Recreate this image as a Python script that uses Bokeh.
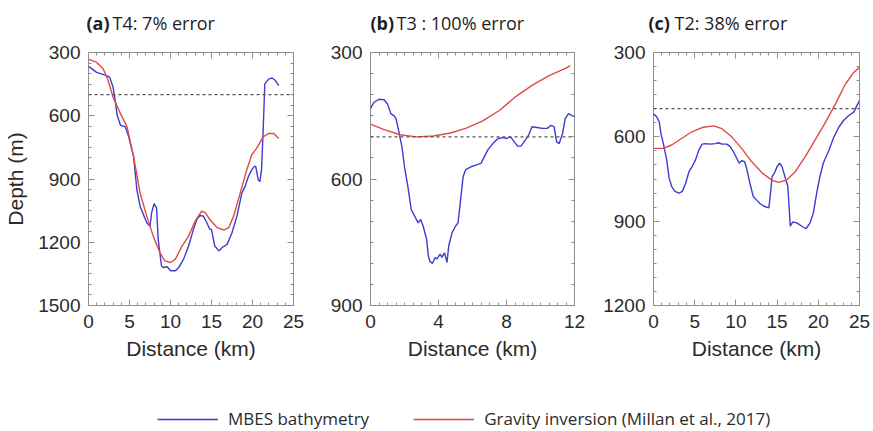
from bokeh.plotting import figure
from bokeh.models import (Range1d, SingleIntervalTicker, LinearAxis, Span, Label,
                          Legend, LegendItem, ColumnDataSource)
from bokeh.layouts import row, column
from bokeh.embed import file_html
from bokeh.resources import INLINE

# ---------------- data: along-track distance (km) and depth (m) ----------------
# (a) T4
a_mbes_km = [0.0, 1.0, 2.2, 2.6, 3.0, 3.25, 3.5, 3.9, 4.5, 4.9, 5.5, 5.9, 6.3, 7.1, 7.5,
             7.7, 8.0, 8.3, 8.5, 8.9, 9.1, 9.6, 10.0, 10.6, 11.0, 11.6, 12.2, 12.8, 13.2,
             13.6, 14.0, 14.4, 14.8, 15.0, 15.4, 15.9, 16.3, 16.9, 17.5, 18.1, 18.7, 19.1,
             19.5, 19.9, 20.2, 20.4, 20.7, 20.9, 21.1, 21.3, 21.5, 22.0, 22.4, 22.8, 23.2]
a_mbes_depth = [366, 394, 410, 418, 465, 527, 598, 645, 653, 700, 794, 951, 1030, 1108, 1124,
                1060, 1017, 1037, 1186, 1312, 1320, 1316, 1335, 1335, 1320, 1280, 1218, 1139,
                1092, 1073, 1076, 1105, 1139, 1139, 1218, 1241, 1225, 1210, 1155, 1076, 967,
                935, 888, 857, 841, 841, 904, 912, 857, 669, 449, 425, 421, 433, 457]
a_grav_km = [0.0, 1.0, 1.8, 2.4, 3.0, 3.9, 4.7, 5.5, 6.3, 7.1, 7.9, 8.7, 9.3, 10.0, 10.6,
             11.4, 12.2, 13.0, 13.8, 14.2, 14.8, 15.7, 16.5, 17.1, 17.7, 18.5, 19.3, 19.9,
             20.5, 21.3, 22.0, 22.6, 23.2]
a_grav_depth = [331, 347, 378, 433, 512, 590, 653, 794, 967, 1076, 1171, 1249, 1288, 1296,
                1280, 1218, 1171, 1100, 1053, 1058, 1092, 1131, 1142, 1131, 1076, 967, 857,
                786, 755, 700, 684, 684, 708]

# (b) T3
b_mbes_km = [0.0, 0.2, 0.5, 0.8, 1.0, 1.2, 1.4, 1.5, 1.65, 1.85, 2.0, 2.2, 2.4, 2.6, 2.8,
             2.95, 3.1, 3.3, 3.4, 3.5, 3.65, 3.8, 3.9, 4.1, 4.2, 4.35, 4.5, 4.6, 4.8, 5.0,
             5.15, 5.3, 5.45, 5.6, 5.9, 6.2, 6.5, 6.7, 6.9, 7.2, 7.5, 7.8, 8.0, 8.2, 8.35,
             8.65, 8.85, 9.1, 9.3, 9.5, 9.8, 10.1, 10.4, 10.6, 10.8, 10.95, 11.1, 11.3,
             11.45, 11.65, 11.9, 12.0]
b_mbes_depth = [433, 418, 411, 412, 422, 445, 451, 457, 484, 524, 571, 618, 673, 688, 704,
                696, 712, 743, 782, 796, 800, 786, 790, 778, 786, 775, 798, 759, 727, 712,
                704, 649, 594, 578, 571, 567, 563, 547, 531, 516, 504, 502, 504, 500, 506,
                522, 522, 508, 496, 476, 478, 480, 480, 473, 476, 512, 516, 492, 457, 445,
                451, 451]
b_grav_km = [0.0, 0.8, 1.75, 2.7, 3.7, 4.7, 5.6, 6.6, 7.6, 8.5, 9.5, 10.5, 11.5, 11.75]
b_grav_depth = [470, 483, 495, 500, 498, 491, 480, 462, 437, 406, 378, 355, 337, 331]

# (c) T2
c_mbes_km = [0.0, 0.4, 0.7, 0.9, 1.2, 1.6, 1.9, 2.2, 2.6, 3.1, 3.5, 3.9, 4.3, 4.65, 5.1,
             5.5, 5.9, 6.3, 6.9, 7.5, 7.9, 8.3, 8.9, 9.3, 9.7, 10.1, 10.4, 10.7, 11.05,
             11.3, 11.7, 12.1, 12.55, 12.95, 13.4, 14.0, 14.2, 14.4, 14.7, 15.0, 15.3,
             15.6, 16.0, 16.3, 16.6, 16.9, 17.4, 18.0, 18.5, 19.0, 19.4, 19.8, 20.2, 20.6,
             21.3, 21.9, 22.5, 23.1, 23.7, 24.3, 24.7, 25.0]
c_mbes_depth = [518, 529, 547, 588, 624, 682, 747, 776, 794, 800, 794, 765, 724, 708, 682,
                647, 626, 624, 626, 624, 621, 626, 626, 635, 653, 676, 694, 685, 688, 712,
                765, 812, 826, 838, 847, 853, 800, 741, 727, 706, 694, 706, 747, 776, 918,
                903, 906, 918, 927, 906, 871, 800, 741, 694, 647, 600, 565, 541, 524, 512,
                488, 471]
c_grav_km = [0.0, 1.2, 2.2, 3.4, 4.65, 5.9, 7.3, 8.3, 9.5, 10.7, 11.9, 13.2, 14.4, 15.2,
             16.2, 17.2, 18.4, 19.6, 20.9, 22.1, 23.3, 24.3, 25.0]
c_grav_depth = [641, 641, 629, 606, 582, 567, 561, 571, 600, 641, 688, 729, 755, 762, 753,
                724, 671, 612, 547, 482, 412, 371, 353]

REF_DEPTH = 500  # dotted reference depth

panel_tags = ["(a)", "(b)", "(c)"]
panel_titles = ["T4: 7% error", "T3 : 100% error", "T2: 38% error"]

BLUE = "#3d3dcf"
RED = "#e04a44"
FRAME = "#8f8f8f"
TEXT = "#2b2b2b"
AX_FONT = "Liberation Sans"
TITLE_FONT = "Open Sans"

HEADER_H = 40
PANEL_H = 340
LEGEND_H = 51
W = 873


def style_axis(ax, labels=True):
    ax.axis_line_color = None
    ax.major_tick_line_color = FRAME
    ax.minor_tick_line_color = FRAME
    ax.major_tick_in = 6
    ax.major_tick_out = 0
    ax.minor_tick_in = 3
    ax.minor_tick_out = 0
    ax.major_label_text_font = AX_FONT
    ax.major_label_text_color = TEXT
    ax.axis_label_text_font = AX_FONT
    ax.axis_label_text_font_style = "normal"
    ax.axis_label_text_color = TEXT
    ax.axis_label_text_font_size = "21px"
    if labels:
        ax.major_label_text_font_size = "19px"
    else:
        # tick marks only on the opposite side of the frame
        ax.major_label_text_font_size = "1px"
        ax.major_label_text_color = None
        ax.major_label_standoff = 0


def panel(width, left, right, top, bottom, xmax, xint, xminor, ymax,
          mk, md, gk, gd, ylabel=None):
    p = figure(width=width, height=PANEL_H, output_backend="svg", toolbar_location=None,
               x_range=Range1d(0, xmax), y_range=Range1d(ymax, 300),
               x_axis_type=None, y_axis_type=None,
               min_border_left=left, min_border_right=right,
               min_border_top=top, min_border_bottom=bottom)
    p.outline_line_color = FRAME
    p.outline_line_width = 1
    p.background_fill_color = "white"
    p.border_fill_color = "white"

    xt = SingleIntervalTicker(interval=xint, num_minor_ticks=xminor)
    yt = SingleIntervalTicker(interval=300, num_minor_ticks=6)

    xb = LinearAxis(ticker=xt, axis_label="Distance (km)")
    style_axis(xb)
    xb.major_label_standoff = 9
    xb.axis_label_standoff = 6
    p.add_layout(xb, "below")
    xa = LinearAxis(ticker=xt)
    style_axis(xa, labels=False)
    p.add_layout(xa, "above")

    yl = LinearAxis(ticker=yt, axis_label=ylabel)
    style_axis(yl)
    yl.major_label_standoff = 8
    yl.axis_label_standoff = 8
    p.add_layout(yl, "left")
    yr = LinearAxis(ticker=yt)
    style_axis(yr, labels=False)
    p.add_layout(yr, "right")

    p.add_layout(Span(location=REF_DEPTH, dimension="width", line_color="#555555",
                      line_dash="3 3", line_width=1.2))

    p.line(mk, md, line_color=BLUE, line_width=1.4)
    p.line(gk, gd, line_color=RED, line_width=1.4)
    return p


# panel geometry: figure width, border left/right, frame left edge on the page
pa = panel(325, 88, 32, 12, 73, 25, 5, 5, 1500, a_mbes_km, a_mbes_depth,
           a_grav_km, a_grav_depth, ylabel="Depth (m)")
pb = panel(270, 45, 21, 11, 75, 12, 4, 8, 900, b_mbes_km, b_mbes_depth,
           b_grav_km, b_grav_depth)
pc = panel(278, 58, 14, 11, 74, 25, 5, 5, 1200, c_mbes_km, c_mbes_depth,
           c_grav_km, c_grav_depth)
frame_lefts = [88, 325 + 45, 325 + 270 + 58]
tag_shift = [-2, 0, -5]

# header strip with the bold panel letter followed by the panel caption
ph = figure(width=W, height=HEADER_H, output_backend="svg", toolbar_location=None,
            x_range=Range1d(0, W), y_range=Range1d(0, HEADER_H),
            x_axis_type=None, y_axis_type=None,
            min_border_left=0, min_border_right=0, min_border_top=0, min_border_bottom=0)
ph.outline_line_color = None
ph.grid.visible = False
for fl, dx, tag, title in zip(frame_lefts, tag_shift, panel_tags, panel_titles):
    ph.add_layout(Label(x=fl + dx, y=HEADER_H - 22, text=tag, text_font=TITLE_FONT,
                        text_font_style="bold", text_font_size="18px",
                        text_color="#1e1e1e", text_baseline="middle", text_align="left"))
    ph.add_layout(Label(x=fl + dx + 26, y=HEADER_H - 22, text=title, text_font=TITLE_FONT,
                        text_font_size="18px", text_color="#1e1e1e",
                        text_baseline="middle", text_align="left"))

# legend strip underneath the three panels
pl = figure(width=W, height=LEGEND_H, output_backend="svg", toolbar_location=None,
            x_range=Range1d(0, 1), y_range=Range1d(0, 1),
            x_axis_type=None, y_axis_type=None,
            min_border_left=0, min_border_right=0, min_border_top=0, min_border_bottom=0)
pl.outline_line_color = None
pl.grid.visible = False
key_src = ColumnDataSource(data=dict(x=[float("nan")], y=[float("nan")]))
r_mbes = pl.line("x", "y", source=key_src, line_color=BLUE, line_width=1.6)
r_grav = pl.line("x", "y", source=key_src, line_color=RED, line_width=1.6)
legend = Legend(items=[LegendItem(label="MBES bathymetry", renderers=[r_mbes]),
                       LegendItem(label="Gravity inversion (Millan et al., 2017)",
                                  renderers=[r_grav])],
                orientation="horizontal", location=(157, 1),
                glyph_width=61, glyph_height=20, label_standoff=10, spacing=44,
                padding=0, margin=0, border_line_color=None, background_fill_alpha=0,
                label_text_font=TITLE_FONT, label_text_font_size="17px",
                label_text_color=TEXT)
pl.add_layout(legend, "center")

layout = column(ph, row(pa, pb, pc), pl)
open("out.html", "w").write(file_html(layout, INLINE))
